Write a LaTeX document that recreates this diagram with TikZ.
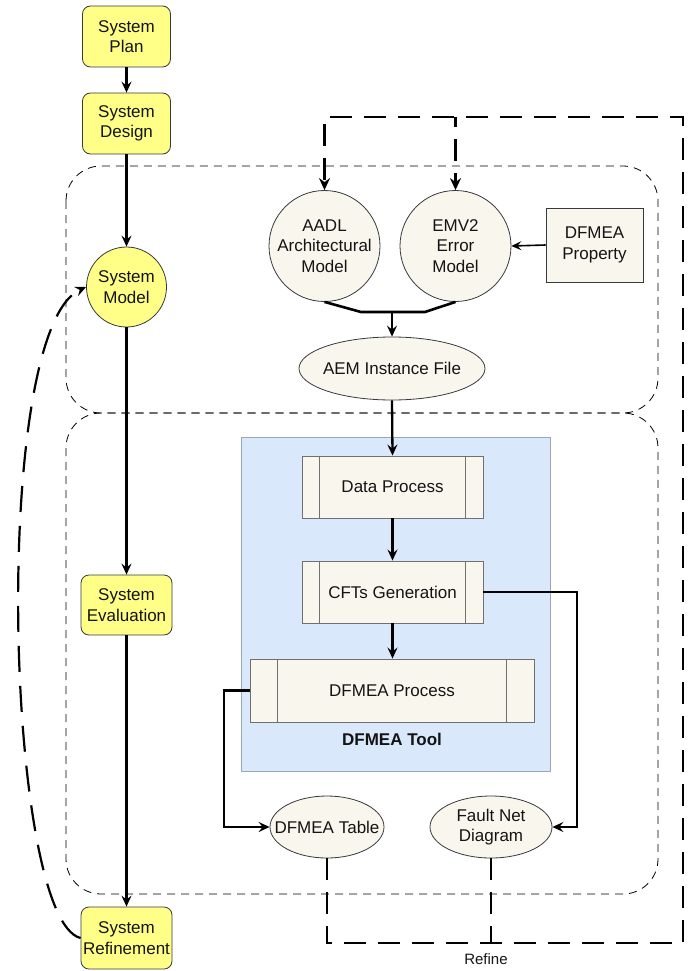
\documentclass[tikz,border=0pt]{standalone}
\usepackage{fontspec}
\setmainfont{Liberation Sans}
\usetikzlibrary{arrows.meta,shapes.geometric,calc}
\definecolor{yel}{HTML}{FFFF88}
\definecolor{ystroke}{HTML}{36393D}
\definecolor{beige}{HTML}{F9F7ED}
\definecolor{bluefill}{HTML}{DAE8FC}
\definecolor{bluestroke}{HTML}{9AA5B8}
\definecolor{procstroke}{HTML}{707070}
\definecolor{txt}{HTML}{141414}
\begin{document}
\begin{tikzpicture}[x=1pt,y=-1pt,
  font=\fontsize{17}{20.5}\selectfont, text=txt,
  ybox/.style={draw=ystroke, fill=yel, rounded corners=8pt, minimum width=88pt, minimum height=61pt, align=center, inner sep=0pt, line width=0.8pt},
  ycirc/.style={circle, draw=ystroke, fill=yel, minimum size=80pt, inner sep=0pt, align=center, line width=0.8pt},
  bcirc/.style={circle, draw=ystroke, fill=beige, minimum size=111pt, inner sep=-3pt, align=center, line width=0.8pt},
  bell/.style={ellipse, draw=ystroke, fill=beige, inner xsep=-16pt, inner ysep=0pt, align=center, line width=0.8pt},
  procbox/.style={draw=procstroke, fill=beige, minimum height=62pt, inner sep=0pt, line width=0.9pt},
  flow/.style={line width=2.3pt, -{Stealth[length=11pt,width=10pt,inset=4pt]}},
  thinflow/.style={line width=1.6pt, -{Stealth[length=10pt,width=9pt,inset=4pt]}},
  refineline/.style={line width=2.5pt, dash pattern=on 22pt off 12pt},
  region/.style={draw=black, line width=0.8pt, dash pattern=on 8pt off 6pt, rounded corners=35pt}
]
\useasboundingbox (0,0) rectangle (689,971);

% dashed regions
\draw[region] (66,166) rectangle (658,413);
\draw[region] (66,413) rectangle (658,894);

% DFMEA tool container
\node[draw=bluestroke, fill=bluefill, line width=0.9pt, minimum width=309pt, minimum height=334pt, inner sep=0pt] (tool) at (395.5,604.5) {};
\node[font=\fontsize{17}{20.5}\selectfont\bfseries] (toollabel) at (392,739) {DFMEA Tool};

% left column
\node[ybox] (plan) at (126.5,36.5) {System\\Plan};
\node[ybox] (design) at (126.5,123.5) {System\\Design};
\node[ycirc] (model) at (126.5,287) {System\\Model};
\node[ybox, minimum width=91pt, minimum height=60pt] (eval) at (126.5,605) {System\\Evaluation};
\node[ybox, minimum width=91pt, minimum height=62pt] (refine) at (126.5,938) {System\\Refinement};

% modelling part
\node[bcirc] (aadl) at (324.5,246) {AADL\\Architectural\\Model};
\node[bcirc] (emv) at (455.5,246) {EMV2\\Error\\Model};
\node[draw=ystroke, fill=beige, line width=0.8pt, minimum width=97pt, minimum height=74pt, inner sep=0pt, align=center] (prop) at (594.5,245) {DFMEA\\Property};
\node[bell, minimum width=186pt, minimum height=63pt] (aem) at (392,368.5) {AEM Instance File};

% processes
\node[procbox, minimum width=181pt] (dp) at (392.5,487) {Data Process};
\node[procbox, minimum width=181pt] (cft) at (392.5,592) {CFTs Generation};
\node[procbox, minimum width=284pt, minimum height=63pt] (dfp) at (392,690.5) {DFMEA Process};
\draw[procstroke, line width=0.9pt] ($(dp.north west)+(18,0)$) -- ($(dp.south west)+(18,0)$);
\draw[procstroke, line width=0.9pt] ($(dp.north east)+(-18,0)$) -- ($(dp.south east)+(-18,0)$);
\draw[procstroke, line width=0.9pt] ($(cft.north west)+(18,0)$) -- ($(cft.south west)+(18,0)$);
\draw[procstroke, line width=0.9pt] ($(cft.north east)+(-18,0)$) -- ($(cft.south east)+(-18,0)$);
\draw[procstroke, line width=0.9pt] ($(dfp.north west)+(28,0)$) -- ($(dfp.south west)+(28,0)$);
\draw[procstroke, line width=0.9pt] ($(dfp.north east)+(-28,0)$) -- ($(dfp.south east)+(-28,0)$);

% outputs
\node[bell, minimum width=114pt, minimum height=62pt] (table) at (327,827) {DFMEA Table};
\node[bell, minimum width=122pt, minimum height=62pt] (fault) at (491,827) {Fault Net\\Diagram};

% left flow
\draw[flow] (plan) -- (design);
\draw[flow] (design) -- (model);
\draw[flow] (model) -- (eval);
\draw[flow] (eval) -- (refine);

% merge into AEM
\coordinate (mj) at (392,312);
\draw[line width=2.6pt, line join=round] (aadl.south) -- (361,312) -- (425,312) -- (emv.south);
\draw[line width=2.6pt, -{Stealth[length=11pt,width=10pt,inset=4pt]}] (mj) -- (aem.north);
\draw[thinflow] (prop.west) -- (emv.east);

% tool flow
\draw[flow] (aem.south) -- (dp.north);
\draw[flow] (dp) -- (cft);
\draw[flow] (cft.south) -- (cft.south |- dfp.north);
\draw[flow] (dfp.west) -- (224,690.5) |- (table.west);
\draw[flow] (cft.east) -- (577,592) |- (fault.east);

% refine loop
\coordinate (br) at (683,943);
\coordinate (tr) at (683,117);
\draw[refineline, -{Stealth[length=12pt,width=11pt,inset=4pt]}] (table.south) |- (br) -- (tr) -| (aadl.north);
\draw[refineline] (fault.south) -- (fault.south |- br);
\draw[refineline, dash phase=12pt, -{Stealth[length=12pt,width=11pt,inset=4pt]}] (emv.north |- tr) -- (emv.north);
\node[font=\fontsize{15}{18}\selectfont] (refinelabel) at (486,959) {Refine};

% feedback from refinement to model
\draw[line width=2.2pt, dash pattern=on 26pt off 14pt, -{Stealth[length=11pt,width=10pt,inset=4pt]}]
  (refine.west) .. controls (5,920) and (-10,330) .. (model.west);
\end{tikzpicture}
\end{document}
